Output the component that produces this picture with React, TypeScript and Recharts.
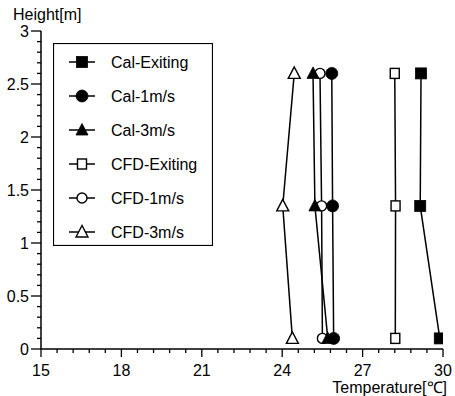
import React from 'react'
import { ScatterChart, Scatter, XAxis, YAxis, Legend } from 'recharts'

// measurement heights [m], shared by all series
const HEIGHTS = [0.1, 1.35, 2.6]

// temperatures [℃] at each height
const CAL_EXITING = [29.88, 29.15, 29.18]
const CAL_1MS = [25.92, 25.88, 25.85]
const CAL_3MS = [25.7, 25.22, 25.15]
const CFD_EXITING = [28.22, 28.23, 28.2]
const CFD_1MS = [25.5, 25.47, 25.41]
const CFD_3MS = [24.38, 24.02, 24.45]

const X_MAJOR = [15, 18, 21, 24, 27, 30]
const Y_MAJOR = [0, 0.5, 1, 1.5, 2, 2.5, 3]

const X_TICKS = Array.from({ length: 26 }, (_, i) => Math.round((15 + i * 0.6) * 10) / 10)
const Y_TICKS = Array.from({ length: 31 }, (_, i) => Math.round(i) / 10)

const FONT = '"Liberation Sans", Arial, sans-serif'

type Kind = 'square' | 'circle' | 'triangle'

interface SeriesDef {
  name: string
  temps: number[]
  kind: Kind
  filled: boolean
}

const SERIES: SeriesDef[] = [
  { name: 'Cal-Exiting', temps: CAL_EXITING, kind: 'square', filled: true },
  { name: 'Cal-1m/s', temps: CAL_1MS, kind: 'circle', filled: true },
  { name: 'Cal-3m/s', temps: CAL_3MS, kind: 'triangle', filled: true },
  { name: 'CFD-Exiting', temps: CFD_EXITING, kind: 'square', filled: false },
  { name: 'CFD-1m/s', temps: CFD_1MS, kind: 'circle', filled: false },
  { name: 'CFD-3m/s', temps: CFD_3MS, kind: 'triangle', filled: false }
]

function Marker({ cx, cy, kind, filled }: { cx: number; cy: number; kind: Kind; filled: boolean }) {
  const fill = filled ? '#000' : '#fff'
  const sw = filled ? 0.8 : 1.4
  if (kind === 'square') {
    const s = filled ? 11 : 9
    return <rect x={cx - s / 2} y={cy - s / 2 - (filled ? 0 : 0.5)} width={s} height={s + (filled ? 0 : 1)} fill={fill} stroke="#000" strokeWidth={sw} />
  }
  if (kind === 'circle') {
    return <circle cx={cx} cy={cy} r={filled ? 6 : 5} fill={fill} stroke="#000" strokeWidth={sw} />
  }
  return (
    <polygon
      points={`${cx},${cy - 6.5} ${cx - 6},${cy + 5} ${cx + 6},${cy + 5}`}
      fill={fill}
      stroke="#000"
      strokeWidth={sw}
      strokeLinejoin="miter"
    />
  )
}

const XTick = ({ x, y, payload }: any) => {
  const major = X_MAJOR.includes(payload.value)
  return (
    <g>
      <line x1={x} y1={y} x2={x} y2={y + (major ? 8 : 4)} stroke="#000" strokeWidth={1.3} />
      {major && (
        <text x={x} y={y + 27} textAnchor="middle" fontSize={16} fontFamily={FONT} fill="#000">
          {payload.value}
        </text>
      )}
    </g>
  )
}

const YTick = ({ x, y, payload }: any) => {
  const major = Y_MAJOR.includes(payload.value)
  return (
    <g>
      <line x1={x - (major ? 10 : 4)} y1={y} x2={x} y2={y} stroke="#000" strokeWidth={1.3} />
      {major && (
        <text x={x - 12} y={y + 6} textAnchor="end" fontSize={16} fontFamily={FONT} fill="#000">
          {payload.value}
        </text>
      )}
    </g>
  )
}

const LegendBox = () => (
  <svg width={160} height={203} style={{ display: 'block' }}>
    <rect x={0.5} y={0.5} width={159} height={202} fill="#fff" stroke="#000" strokeWidth={1.2} />
    {SERIES.map((s, i) => {
      const cy = 19 + i * 34
      return (
        <g key={s.name}>
          <line x1={16} y1={cy} x2={42} y2={cy} stroke="#000" strokeWidth={1.5} />
          <Marker cx={29} cy={cy} kind={s.kind} filled={s.filled} />
          <text x={58} y={cy + 6} fontSize={16} fontFamily={FONT} fill="#000">
            {s.name}
          </text>
        </g>
      )
    })}
  </svg>
)

export default function App() {
  // draw open (CFD) markers first so the filled ones sit on top
  const drawOrder = [...SERIES].reverse()
  return (
    <div style={{ position: 'absolute', left: 0, top: 0, background: '#fff' }}>
      <ScatterChart width={455} height={396} margin={{ top: 31, right: 12, left: 0, bottom: 0 }}>
        <XAxis
          type="number"
          dataKey="t"
          domain={[15, 30]}
          ticks={X_TICKS}
          interval={0}
          height={47}
          tickSize={0}
          tickMargin={0}
          tickLine={false}
          tick={XTick}
          axisLine={{ stroke: '#000', strokeWidth: 1.5 }}
          allowDataOverflow
          label={({ viewBox }: any) => (
            <text
              x={viewBox.x + viewBox.width + 4}
              y={viewBox.y + 44}
              textAnchor="end"
              fontSize={16}
              fontFamily={FONT}
              fill="#000"
            >
              Temperature[℃]
            </text>
          )}
        />
        <YAxis
          type="number"
          dataKey="h"
          domain={[0, 3]}
          ticks={Y_TICKS}
          interval={0}
          width={41}
          tickSize={0}
          tickMargin={0}
          tickLine={false}
          tick={YTick}
          axisLine={{ stroke: '#000', strokeWidth: 1.5 }}
          allowDataOverflow
          label={({ viewBox }: any) => (
            <text x={13} y={viewBox.y - 11} fontSize={16} fontFamily={FONT} fill="#000">
              Height[m]
            </text>
          )}
        />
        <Legend
          layout="vertical"
          align="center"
          verticalAlign="middle"
          content={LegendBox}
          wrapperStyle={{ position: 'absolute', left: 53, top: 43, width: 160, height: 203 }}
        />
        {drawOrder.map((s) => (
          <Scatter
            key={s.name}
            name={s.name}
            data={s.temps.map((t, i) => ({ t, h: HEIGHTS[i] }))}
            line={{ stroke: '#000', strokeWidth: 1.5 }}
            lineJointType="linear"
            shape={(p: any) => <Marker cx={p.cx} cy={p.cy} kind={s.kind} filled={s.filled} />}
            isAnimationActive={false}
          />
        ))}
      </ScatterChart>
    </div>
  )
}
